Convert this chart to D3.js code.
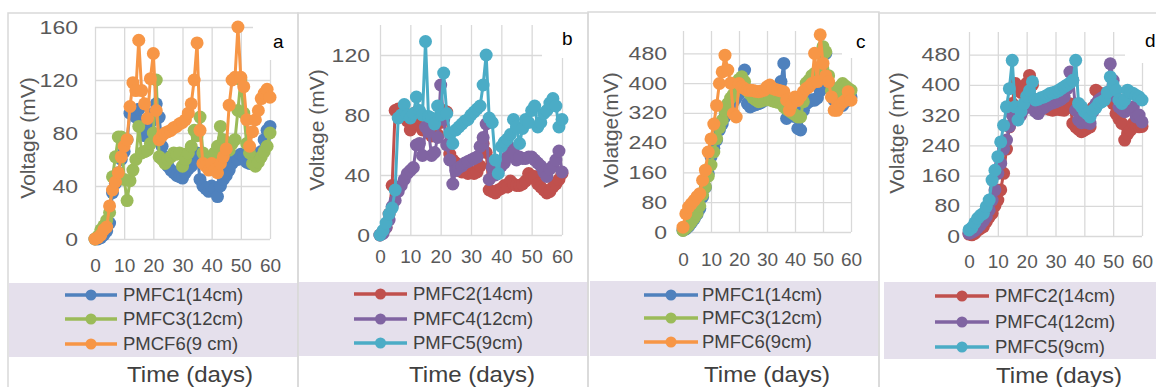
<!DOCTYPE html>
<html>
<head>
<meta charset="utf-8">
<script src="https://cdn.jsdelivr.net/npm/d3@7"></script>
<style>
  body { margin: 0; background: #fff; }
  svg { display: block; font-family: "Liberation Sans", Arial, sans-serif; }
</style>
</head>
<body>
<svg id="chart" width="1156" height="387"></svg>
<script>
// day index shared by every series
const days = [0,1,2,3,4,5,6,7,8,9,10,11,12,13,14,15,16,17,18,19,20,21,22,23,24,25,26,27,28,29,30,
              31,32,33,34,35,36,37,38,39,40,41,42,43,44,45,46,47,48,49,50,51,52,53,54,55,56,57,58,59,60];
const xTicks = [0,10,20,30,40,50,60];
const yTicksA = [0,40,80,120,160];
const yTicksB = [0,40,80,120];
const yTicksCD = [0,80,160,240,320,400,480];

// panel a
const a_pmfc1 = [0,0,1,3,6,12,35,42,50,60,66,75,95,96,92,98,85,78,82,88,95,102,92,70,62,55,52,50,48,47,46,50,53,55,60,65,45,40,38,36,40,38,32,40,45,48,52,57,62,60,64,62,58,57,65,62,60,66,75,82,85];
const a_pmfc3 = [0,2,7,10,14,20,47,62,77,77,45,29,44,52,60,85,65,66,67,72,80,120,62,60,57,60,62,65,64,65,55,60,65,70,82,78,92,65,60,57,62,65,70,85,75,70,67,72,75,97,120,95,72,65,57,55,58,62,66,70,80];
const a_pmcf6 = [0,1,3,7,9,25,37,43,50,62,70,75,100,118,112,150,112,102,91,121,140,97,75,78,80,81,82,84,85,87,88,90,95,102,120,148,82,57,55,52,57,52,50,57,62,68,101,120,122,160,122,115,90,70,81,90,97,106,110,113,107];
// panel b
const b_pmfc2 = [0,2,5,14,33,83,84,80,82,76,70,74,82,78,70,72,68,66,68,67,75,83,82,54,50,48,43,42,42,41,42,41,42,46,61,55,30,29,28,30,31,33,32,36,34,33,33,34,36,41,38,39,34,32,30,28,29,32,34,37,41];
const b_pmfc4 = [0,1,5,10,19,23,29,33,37,41,43,45,60,61,53,72,69,53,55,65,100,77,60,50,34,43,45,46,48,49,50,51,52,59,65,74,37,45,40,43,46,48,52,58,55,50,52,51,51,52,52,50,48,46,42,39,44,46,50,56,42];
const b_pmfc5 = [0,3,8,14,18,30,78,80,87,80,78,81,92,83,80,129,79,78,74,86,80,108,81,68,61,70,72,74,76,77,80,82,84,86,100,120,78,75,50,41,59,62,64,67,77,72,61,71,77,75,83,86,72,75,81,83,88,91,86,72,77];
// panel c
const c_pmfc1 = [5,8,15,25,35,48,63,94,120,157,202,225,247,274,290,310,330,340,350,360,370,380,435,345,336,340,342,345,348,354,355,358,360,370,385,404,453,305,340,330,310,278,274,327,345,350,355,354,360,380,400,480,400,380,354,350,345,340,350,355,363];
const c_pmfc3 = [4,10,18,28,38,50,70,100,121,150,180,215,251,280,300,327,345,360,370,390,410,417,404,380,370,360,355,350,352,354,356,355,352,350,348,350,336,330,325,320,315,309,309,350,400,408,420,426,430,480,498,484,420,380,370,375,390,399,392,386,381];
const c_pmfc6 = [13,49,67,76,85,95,103,139,166,215,250,290,340,399,430,475,435,400,318,309,399,390,385,381,381,380,378,377,379,381,390,395,386,383,381,379,377,354,327,345,363,354,365,377,385,390,399,480,404,530,453,420,404,363,327,327,341,348,354,377,354];
// panel d
const d_pmfc2 = [5,3,7,15,20,25,38,50,60,80,95,122,166,230,289,351,404,395,380,390,404,425,400,360,350,345,340,338,335,333,335,336,334,333,340,350,298,289,282,276,280,285,289,340,386,380,375,370,365,360,350,324,310,298,254,270,280,298,292,289,290];
const d_pmfc4 = [7,10,15,22,30,40,51,69,95,122,166,192,230,254,290,320,340,330,320,335,345,350,340,330,324,335,340,345,350,352,355,358,362,368,390,434,412,333,307,300,305,300,298,330,350,360,365,370,380,456,412,368,342,335,329,335,340,342,315,320,302];
const d_pmfc5 = [16,22,35,47,55,60,78,95,148,174,210,249,293,342,390,465,342,307,330,350,370,385,408,360,362,366,368,372,377,379,381,385,390,395,400,405,412,465,351,342,330,324,315,333,340,351,355,360,380,421,400,386,360,351,360,386,380,377,372,368,360];

const labelsAC = ["PMFC1(14cm)", "PMFC3(12cm)"];
const labelsBD = ["PMFC2(14cm)", "PMFC4(12cm)", "PMFC5(9cm)"];

const blue = "#4f81bd", red = "#c0504d", green = "#9bbb59",
      purple = "#8064a2", aqua = "#4bacc6", orange = "#f79646";

const panels = [
  { letter: "a", left: 8, right: 298, top: 13,
    x0: 95, x1: 270, y0: 239, yTop: 27, yMax: 160, yTicks: yTicksA, yPad: 17, xPad: 20,
    title: "Voltage (mV)", titleX: 28, titleY: 138,
    labelBox: [253, 14, 297, 60], labelAt: [273, 48],
    leg: { x0: 9, x1: 298, y0: 283, y1: 357, rows: [295, 319, 344], l0: 65, l1: 117, tx: 123 },
    timeX: 190, timeY: 382,
    series: [
      { name: labelsAC[0], color: blue, values: a_pmfc1 },
      { name: labelsAC[1], color: green, values: a_pmfc3 },
      { name: "PMCF6(9 cm)", color: orange, values: a_pmcf6 }
    ] },
  { letter: "b", left: 298, right: 588, top: 13,
    x0: 380, x1: 562, y0: 235, yTop: 25, yMax: 140, yTicks: yTicksB, yPad: 10, xPad: 15,
    title: "Voltage (mV)", titleX: 317, titleY: 130,
    labelBox: [542, 14, 587, 58], labelAt: [562, 45],
    leg: { x0: 299, x1: 588, y0: 282, y1: 356, rows: [294, 319, 343], l0: 354, l1: 407, tx: 413 },
    timeX: 472, timeY: 382,
    series: [
      { name: labelsBD[0], color: red, values: b_pmfc2 },
      { name: labelsBD[1], color: purple, values: b_pmfc4 },
      { name: labelsBD[2], color: aqua, values: b_pmfc5 }
    ] },
  { letter: "c", left: 588, right: 879, top: 12,
    x0: 683, x1: 851, y0: 232, yTop: 31, yMax: 540, yTicks: yTicksCD, yPad: 16, xPad: 21,
    title: "Volatge(mV)", titleX: 611, titleY: 130,
    labelBox: [842, 13, 878, 58], labelAt: [856, 48],
    leg: { x0: 590, x1: 878, y0: 281, y1: 356, rows: [295, 318, 342], l0: 644, l1: 698, tx: 702 },
    timeX: 767, timeY: 382,
    series: [
      { name: labelsAC[0], color: blue, values: c_pmfc1 },
      { name: labelsAC[1], color: green, values: c_pmfc3 },
      { name: "PMFC6(9cm)", color: orange, values: c_pmfc6 }
    ] },
  { letter: "d", left: 879, right: 1160, top: 13,
    x0: 969, x1: 1142, y0: 236, yTop: 32, yMax: 540, yTicks: yTicksCD, yPad: 9, xPad: 19,
    title: "Volatge (mV)", titleX: 897, titleY: 133,
    labelBox: [1125, 14, 1156, 63], labelAt: [1145, 47],
    leg: { x0: 884, x1: 1156, y0: 282, y1: 359, rows: [296, 322, 347], l0: 935, l1: 989, tx: 995 },
    timeX: 1059, timeY: 383,
    series: [
      { name: labelsBD[0], color: red, values: d_pmfc2 },
      { name: labelsBD[1], color: purple, values: d_pmfc4 },
      { name: labelsBD[2], color: aqua, values: d_pmfc5 }
    ] }
];

const svg = d3.select("#chart");
const gridColor = "#d9d9d9";

panels.forEach(p => {
  const g = svg.append("g");
  const x = d3.scaleLinear().domain([0, 60]).range([p.x0, p.x1]);
  const y = d3.scaleLinear().domain([0, p.yMax]).range([p.y0, p.yTop]);

  // legend band
  g.append("rect")
    .attr("x", p.leg.x0).attr("y", p.leg.y0)
    .attr("width", p.leg.x1 - p.leg.x0).attr("height", p.leg.y1 - p.leg.y0)
    .attr("fill", "#e5e0ec");

  // axes with gridlines
  const yAxis = d3.axisLeft(y).tickValues(p.yTicks).tickSize(-(p.x1 - p.x0)).tickPadding(p.yPad);
  const xAxis = d3.axisBottom(x).tickValues(xTicks).tickSize(-(p.y0 - p.yTop)).tickPadding(p.xPad);

  const ya = g.append("g").attr("transform", `translate(${p.x0},0)`).call(yAxis);
  const xa = g.append("g").attr("transform", `translate(0,${p.y0})`).call(xAxis);
  [ya, xa].forEach(ax => {
    ax.select(".domain").remove();
    ax.selectAll("line").attr("stroke", gridColor).attr("stroke-width", 1.3);
    ax.selectAll("text").attr("fill", "#595959").style("font-size", "19px")
      .style("font-family", "'Liberation Sans', Arial, sans-serif");
  });
  // the value labels come out wider than the day labels in the source
  ya.selectAll("text")
    .attr("textLength", d => String(d).length * 12.8)
    .attr("lengthAdjust", "spacingAndGlyphs");

  // white box behind the panel letter
  g.append("rect")
    .attr("x", p.labelBox[0]).attr("y", p.labelBox[1])
    .attr("width", p.labelBox[2] - p.labelBox[0]).attr("height", p.labelBox[3] - p.labelBox[1])
    .attr("fill", "#fff");
  g.append("text")
    .attr("x", p.labelAt[0]).attr("y", p.labelAt[1])
    .style("font-size", "19px").attr("fill", "#000")
    .text(p.letter);

  g.append("text")
    .attr("transform", `translate(${p.titleX},${p.titleY}) rotate(-90)`)
    .attr("text-anchor", "middle").attr("dy", "0.35em")
    .style("font-size", "21px").attr("fill", "#595959")
    .text(p.title);

  const line = d3.line().x((d, i) => x(days[i])).y(d => y(d));

  p.series.forEach(s => {
    g.append("path")
      .datum(s.values)
      .attr("d", line)
      .attr("fill", "none")
      .attr("stroke", s.color)
      .attr("stroke-width", 3)
      .attr("stroke-linejoin", "round");
    g.append("g").selectAll("circle")
      .data(s.values)
      .join("circle")
      .attr("cx", (d, i) => x(days[i]))
      .attr("cy", d => y(d))
      .attr("r", 6.5)
      .attr("fill", s.color);
  });

  // legend
  const rows = g.append("g").selectAll("g")
    .data(p.series)
    .join("g")
    .attr("transform", (d, i) => `translate(0,${p.leg.rows[i]})`);
  rows.append("line")
    .attr("x1", p.leg.l0).attr("x2", p.leg.l1)
    .attr("stroke", d => d.color).attr("stroke-width", 3.5);
  rows.append("circle")
    .attr("cx", (p.leg.l0 + p.leg.l1) / 2).attr("r", 5.5)
    .attr("fill", d => d.color);
  rows.append("text")
    .attr("x", p.leg.tx).attr("dy", "0.35em")
    .style("font-size", "18.5px").attr("fill", "#404040")
    .text(d => d.name);

  g.append("text")
    .attr("x", p.timeX).attr("y", p.timeY)
    .attr("text-anchor", "middle")
    .attr("textLength", 126).attr("lengthAdjust", "spacingAndGlyphs")
    .style("font-size", "22.5px").attr("fill", "#404040")
    .text("Time (days)");

  // panel frame
  g.append("path")
    .attr("d", `M${p.left},387V${p.top}H${p.right}V387`)
    .attr("fill", "none")
    .attr("stroke", gridColor)
    .attr("stroke-width", 1.5);
});
</script>
</body>
</html>
